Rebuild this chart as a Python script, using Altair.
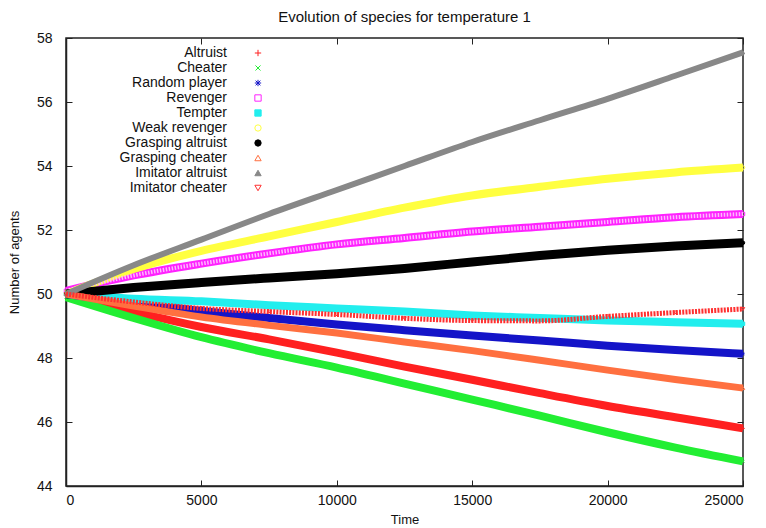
import altair as alt
import pandas as pd

time = [0, 2500, 5000, 7500, 10000, 12500, 15000, 17500, 20000, 22500, 25000]

names = ["Altruist", "Cheater", "Random player", "Revenger", "Tempter",
         "Weak revenger", "Grasping altruist", "Grasping cheater",
         "Imitator altruist", "Imitator cheater"]

altruist = [50.0, 49.45, 48.97, 48.58, 48.17, 47.73, 47.32, 46.9, 46.5, 46.15, 45.8]
cheater = [49.9, 49.25, 48.65, 48.15, 47.7, 47.2, 46.7, 46.2, 45.68, 45.2, 44.77]
random_player = [50.0, 49.72, 49.47, 49.25, 49.05, 48.87, 48.7, 48.55, 48.38, 48.25, 48.13]
revenger = [50.1, 50.58, 50.95, 51.27, 51.55, 51.75, 51.95, 52.1, 52.25, 52.4, 52.5]
tempter = [50.0, 49.85, 49.77, 49.65, 49.55, 49.45, 49.33, 49.25, 49.17, 49.12, 49.07]
weak_revenger = [50.0, 50.78, 51.35, 51.8, 52.25, 52.7, 53.08, 53.35, 53.6, 53.8, 53.95]
grasping_altruist = [50.0, 50.2, 50.36, 50.5, 50.63, 50.8, 51.0, 51.2, 51.37, 51.5, 51.6]
grasping_cheater = [50.0, 49.62, 49.28, 49.02, 48.78, 48.5, 48.23, 47.93, 47.62, 47.33, 47.06]
imitator_altruist = [50.0, 50.9, 51.7, 52.5, 53.25, 54.0, 54.75, 55.43, 56.1, 56.82, 57.55]
imitator_cheater = [50.0, 49.75, 49.55, 49.45, 49.36, 49.24, 49.17, 49.16, 49.3, 49.42, 49.53]

series = [altruist, cheater, random_player, revenger, tempter, weak_revenger,
          grasping_altruist, grasping_cheater, imitator_altruist, imitator_cheater]

x_ticks = [0, 5000, 10000, 15000, 20000, 25000]
y_ticks = [44, 46, 48, 50, 52, 54, 56, 58]

colors = ["#ff2020", "#22ee33", "#1414c8", "#ff22ff", "#22eeee",
          "#ffff40", "#000000", "#ff7040", "#888888", "#ff3030"]
fills = ["transparent", "transparent", "transparent", "transparent", "#22eeee",
         "transparent", "#000000", "transparent", "#888888", "transparent"]
shapes = ["M-1,0H1M0,-1V1", "M-0.8,-0.8L0.8,0.8M-0.8,0.8L0.8,-0.8",
          "M-1,0H1M0,-1V1M-0.75,-0.75L0.75,0.75M-0.75,0.75L0.75,-0.75",
          "square", "square", "circle", "circle", "triangle-up", "triangle-up",
          "triangle-down"]

rows = []
for name, vals in zip(names, series):
    for t, v in zip(time, vals):
        rows.append({"time": t, "value": v, "species": name, "line": name})
df = pd.DataFrame(rows)

FONT = "Liberation Sans"
xscale = alt.Scale(domain=[0, 25000], nice=False)
yscale = alt.Scale(domain=[44, 58], nice=False, zero=False)

base = alt.Chart(df)

points = base.mark_point(filled=False, size=12, strokeWidth=1, opacity=1).encode(
    x=alt.X("time:Q", scale=xscale,
            axis=alt.Axis(orient="top", labels=False, domain=False, title="",
                          values=x_ticks, tickSize=alt.ExprRef("-6"),
                          tickColor="#222", grid=False)),
    y=alt.Y("value:Q", scale=yscale,
            axis=alt.Axis(orient="right", labels=False, domain=False, title="",
                          values=y_ticks, tickSize=alt.ExprRef("-6"),
                          tickColor="#222", grid=False)),
    stroke=alt.Stroke("species:N", scale=alt.Scale(domain=names, range=colors),
                      legend=alt.Legend(title=None)),
    fill=alt.Fill("species:N", scale=alt.Scale(domain=names, range=fills),
                  legend=alt.Legend(title=None)),
    shape=alt.Shape("species:N", scale=alt.Scale(domain=names, range=shapes),
                    legend=alt.Legend(title=None)),
)


def line_layer(keep, width, axes=False):
    enc_x = alt.X("time:Q", scale=xscale, axis=None)
    enc_y = alt.Y("value:Q", scale=yscale, axis=None)
    if axes:
        enc_x = alt.X("time:Q", scale=xscale,
                      axis=alt.Axis(orient="bottom", values=x_ticks, title="Time",
                                    format="d", tickSize=alt.ExprRef("-6"),
                                    labelPadding=13, titlePadding=6, grid=False))
        enc_y = alt.Y("value:Q", scale=yscale,
                      axis=alt.Axis(orient="left", values=y_ticks,
                                    title="Number of agents",
                                    tickSize=alt.ExprRef("-6"), labelPadding=20,
                                    titlePadding=15, grid=False))
    return base.transform_filter(
        alt.FieldOneOfPredicate(field="line", oneOf=keep)
    ).mark_line(strokeCap="butt", strokeJoin="round", interpolate="monotone",
                strokeWidth=width).encode(
        x=enc_x, y=enc_y,
        color=alt.Color("line:N", scale=alt.Scale(domain=names, range=colors),
                        legend=None),
    )


lines_a = line_layer(names[0:6], 8, axes=True)
lines_b = line_layer([names[6]], 9)
lines_c = line_layer([names[7]], 7)
lines_d = line_layer([names[8]], 6)

revenger_stripes = base.transform_filter(
    alt.FieldEqualPredicate(field="line", equal="Revenger")
).mark_line(color="#ffb8ff", strokeWidth=4, strokeDash=[1.5, 1.5],
            interpolate="monotone").encode(
    x=alt.X("time:Q", scale=xscale, axis=None),
    y=alt.Y("value:Q", scale=yscale, axis=None),
)

imit_cheater = base.transform_filter(
    alt.FieldEqualPredicate(field="line", equal="Imitator cheater")
).mark_line(color="#ff3030", strokeWidth=5, strokeDash=[2, 1.2],
            interpolate="monotone").encode(
    x=alt.X("time:Q", scale=xscale, axis=None),
    y=alt.Y("value:Q", scale=yscale, axis=None),
)

chart = alt.layer(points, lines_a, revenger_stripes, lines_b, lines_c, lines_d,
                  imit_cheater).resolve_scale(
    color="independent"
).resolve_axis(
    x="independent", y="independent"
).properties(
    width=677,
    height=448,
    title=alt.TitleParams("Evolution of species for temperature 1", font=FONT,
                          fontSize=15, fontWeight="normal", anchor="middle",
                          offset=6, color="#111"),
    autosize=alt.AutoSizeParams(type="none"),
    padding={"left": 58, "top": 30, "right": 15, "bottom": 40},
).configure_view(
    stroke="#222", strokeWidth=1.5
).configure_axis(
    labelFont=FONT, labelFontSize=14, labelColor="#111", titleFont=FONT,
    titleFontSize=13, titleFontWeight="normal", titleColor="#111",
    domainColor="#222", tickColor="#222", domainWidth=1.5
).configure_legend(
    orient="none", legendX=185, legendY=8, labelFont=FONT, labelFontSize=14,
    labelColor="#111", labelAlign="right", labelOffset=alt.ExprRef("-38"),
    symbolSize=40, symbolStrokeWidth=1, rowPadding=1, padding=0, labelLimit=300
)

chart.save("out.html", embed_options={"renderer": "svg", "actions": False})
